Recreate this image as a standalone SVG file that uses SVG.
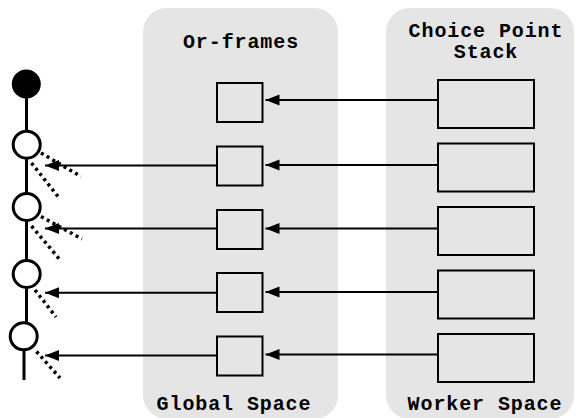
<svg xmlns="http://www.w3.org/2000/svg" width="577" height="418" viewBox="0 0 577 418">
<style>
.panel{fill:#e5e5e5;stroke:none}
.box{fill:#e5e5e5;stroke:#000;stroke-width:2}
.conn{stroke:#000;stroke-width:2;fill:none}
.dot{stroke:#000;stroke-width:3.5;stroke-dasharray:3 3.6;fill:none}
.chain{stroke:#000;stroke-width:3;fill:none}
.node{fill:#fff;stroke:#000;stroke-width:3}
.lbl{font-family:"Liberation Mono","Courier New",monospace;font-weight:bold;font-size:20px;letter-spacing:0.9px;fill:#000;text-anchor:middle}
</style>
<defs>
<marker id="ah" markerUnits="userSpaceOnUse" markerWidth="16" markerHeight="14" refX="14" refY="6" orient="auto">
<path d="M0,0.5 L14,6 L0,11.5 Z" fill="#000"/>
</marker>
</defs>
<rect width="577" height="418" fill="#fff"/>
<g id="global-space">
<rect class="panel" x="143" y="8" width="195" height="411" rx="24"/>
<text class="lbl" x="241" y="48">Or-frames</text>
<text class="lbl" x="234" y="410">Global Space</text>
</g>
<g id="worker-space">
<rect class="panel" x="386" y="8" width="188" height="411" rx="24"/>
<text class="lbl" x="486" y="37">Choice Point</text>
<text class="lbl" x="486" y="58">Stack</text>
<text class="lbl" x="485" y="410">Worker Space</text>
</g>
<g id="chain">
<line class="chain" x1="26.5" y1="84" x2="26.5" y2="322"/>
<line class="chain" x1="24" y1="350" x2="24" y2="380"/>
<circle id="root" cx="26.3" cy="84" r="14.5" fill="#000"/>
<circle id="c1" class="node" cx="26.7" cy="144.7" r="13.5"/>
<circle id="c2" class="node" cx="26.7" cy="207" r="13.5"/>
<circle id="c3" class="node" cx="26.7" cy="274" r="13.5"/>
<circle id="c4" class="node" cx="23.7" cy="336.3" r="13.5"/>
</g>
<g id="alternatives">
<line class="dot" x1="41" y1="153" x2="81" y2="176.5"/>
<line class="dot" x1="31.5" y1="163" x2="60" y2="199"/>
<line class="dot" x1="41" y1="216.5" x2="82" y2="239"/>
<line class="dot" x1="31.5" y1="226" x2="61" y2="261"/>
<line class="dot" x1="35" y1="290" x2="56" y2="317"/>
<line class="dot" x1="36.5" y1="351.5" x2="60" y2="378"/>
</g>
<g id="or-frames">
<rect class="box" x="217" y="83" width="45.5" height="39"/>
<rect class="box" x="217" y="146.5" width="45.5" height="39"/>
<rect class="box" x="217" y="210" width="45.5" height="39"/>
<rect class="box" x="217" y="273" width="45.5" height="39"/>
<rect class="box" x="217" y="336.5" width="45.5" height="39"/>
</g>
<g id="choice-points">
<rect class="box" x="438" y="80" width="96" height="48"/>
<rect class="box" x="438" y="143.5" width="96" height="48"/>
<rect class="box" x="438" y="207" width="96" height="48"/>
<rect class="box" x="438" y="270.5" width="96" height="48"/>
<rect class="box" x="438" y="334" width="96" height="48"/>
</g>
<g id="connectors">
<line class="conn" x1="438" y1="100" x2="265.5" y2="100" marker-end="url(#ah)"/>
<line class="conn" x1="438" y1="165" x2="265.5" y2="165" marker-end="url(#ah)"/>
<line class="conn" x1="438" y1="228.5" x2="265.5" y2="228.5" marker-end="url(#ah)"/>
<line class="conn" x1="438" y1="292" x2="265.5" y2="292" marker-end="url(#ah)"/>
<line class="conn" x1="438" y1="354.5" x2="265.5" y2="354.5" marker-end="url(#ah)"/>
<line class="conn" x1="217" y1="165.5" x2="45" y2="165.5" marker-end="url(#ah)"/>
<line class="conn" x1="217" y1="228.5" x2="45" y2="228.5" marker-end="url(#ah)"/>
<line class="conn" x1="217" y1="292.8" x2="45" y2="292.8" marker-end="url(#ah)"/>
<line class="conn" x1="217" y1="355.5" x2="45" y2="355.5" marker-end="url(#ah)"/>
</g>
</svg>
